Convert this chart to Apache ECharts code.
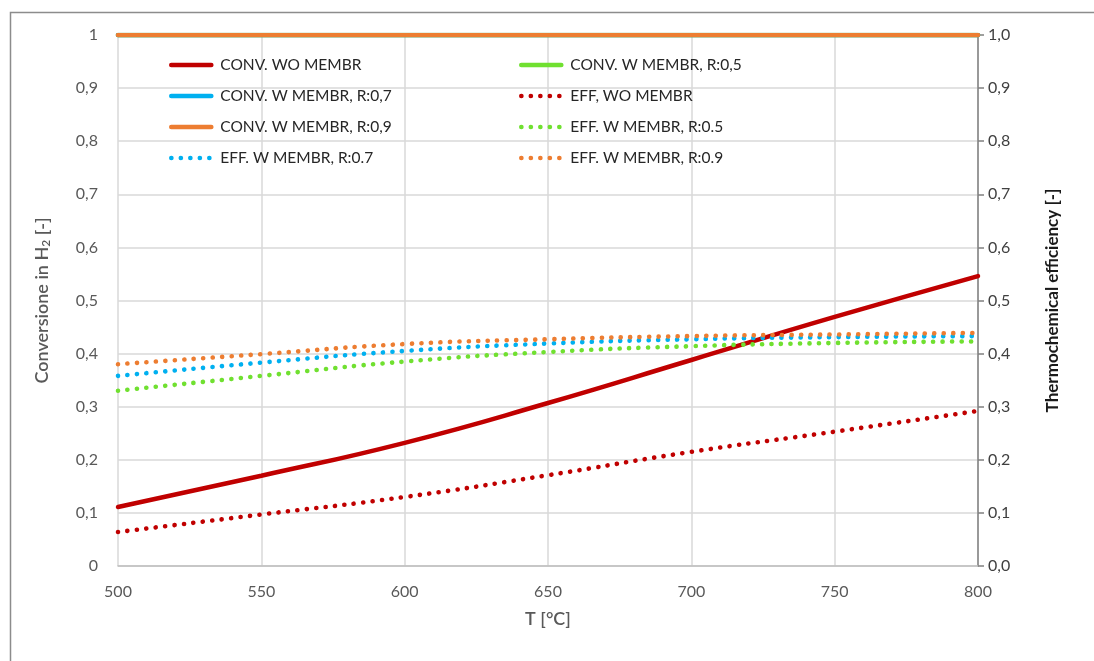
<!DOCTYPE html>
<html>
<head>
<meta charset="utf-8">
<script src="https://cdn.jsdelivr.net/npm/echarts@6/dist/echarts.min.js"></script>
<style>
  html, body { margin: 0; padding: 0; background: #fff; }
  #chart { width: 1094px; height: 661px; }
</style>
</head>
<body>
<div id="chart"></div>
<script>
// Temperature samples [°C]
const temps = [500, 550, 600, 650, 700, 750, 800];

// H2 conversion without membrane
const convWo = [0.111, 0.170, 0.232, 0.307, 0.388, 0.469, 0.546];
// H2 conversion with membrane (complete at every temperature)
const convR05 = [1, 1, 1, 1, 1, 1, 1];
const convR07 = [1, 1, 1, 1, 1, 1, 1];
const convR09 = [1, 1, 1, 1, 1, 1, 1];

// Thermochemical efficiency
const effWo = [0.064, 0.097, 0.130, 0.171, 0.215, 0.253, 0.292];
const effR05 = [0.330, 0.358, 0.385, 0.403, 0.414, 0.420, 0.423];
const effR07 = [0.358, 0.383, 0.405, 0.419, 0.427, 0.431, 0.433];
const effR09 = [0.380, 0.399, 0.418, 0.427, 0.433, 0.436, 0.439];

const leftLegend = ['CONV. WO MEMBR', 'CONV. W MEMBR, R:0,7', 'CONV. W MEMBR, R:0,9', 'EFF. W MEMBR, R:0.7'];
const rightLegend = ['CONV. W MEMBR, R:0,5', 'EFF, WO MEMBR', 'EFF. W MEMBR, R:0.5', 'EFF. W MEMBR, R:0.9'];

const RED = '#c00000', GREEN = '#70e030', BLUE = '#00b0f0', ORANGE = '#ed7d31';
const FONT = 'Lato, "Open Sans", sans-serif';

const pairs = ys => temps.map((t, i) => [t, ys[i]]);

function solid(name, ys, color, axis) {
  return {
    name, type: 'line', yAxisIndex: axis, data: pairs(ys), smooth: true,
    showSymbol: false, symbol: 'none',
    lineStyle: { color, width: 4.5, cap: 'round' }, itemStyle: { color }
  };
}
function dotted(name, ys, color, axis) {
  return {
    name, type: 'line', yAxisIndex: axis, data: pairs(ys), smooth: true,
    showSymbol: false, symbol: 'none',
    lineStyle: { color, width: 4.6, type: [0.1, 9.4], cap: 'round' }, itemStyle: { color }
  };
}

function legendColumn(left, names) {
  return {
    orient: 'vertical', left, top: 52, data: names,
    itemWidth: 40, itemHeight: 10, itemGap: 15,
    itemStyle: { opacity: 0 },
    lineStyle: { width: 4.6, cap: 'round' },
    textStyle: { fontFamily: FONT, fontSize: 15.5, color: '#262626', padding: [0, 0, 0, 4] },
    selectedMode: false
  };
}

const chart = echarts.init(document.getElementById('chart'));
chart.setOption({
  backgroundColor: '#fff',
  animation: false,
  graphic: [{
    type: 'rect', left: 8, top: 10, shape: { width: 1200, height: 800 },
    style: { fill: 'none', stroke: '#8c8c8c', lineWidth: 1.5 }, silent: true, z: -1
  }],
  grid: { left: 118, right: 116, top: 35, bottom: 95 },
  legend: [legendColumn(164, leftLegend), legendColumn(514, rightLegend)],
  xAxis: {
    type: 'value', min: 500, max: 800, interval: 50,
    name: 'T [°C]', nameLocation: 'middle', nameGap: 44,
    nameTextStyle: { fontFamily: FONT, fontSize: 18, fontWeight: 600, color: '#595959' },
    axisLine: { show: true, lineStyle: { color: '#bfbfbf', width: 1.5 } },
    axisTick: { show: false },
    axisLabel: { fontFamily: FONT, fontSize: 16, color: '#595959', margin: 18 },
    splitLine: { show: true, lineStyle: { color: '#d9d9d9', width: 1.5 } }
  },
  yAxis: [{
    type: 'value', min: 0, max: 1, interval: 0.1, position: 'left',
    name: 'Conversione in H{sub|2} [-]', nameLocation: 'middle', nameGap: 66, nameRotate: 90,
    nameTextStyle: {
      fontFamily: FONT, fontSize: 18, fontWeight: 600, color: '#595959',
      rich: { sub: { fontFamily: FONT, fontSize: 12, fontWeight: 600, color: '#595959', verticalAlign: 'bottom', padding: [8, 0, 0, 0] } }
    },
    axisLine: { show: false }, axisTick: { show: false },
    axisLabel: { fontFamily: FONT, fontSize: 16, color: '#595959', margin: 20,
      formatter: v => (Math.round(v * 10) / 10).toString().replace('.', ',') },
    splitLine: { show: true, lineStyle: { color: '#d9d9d9', width: 1.5 } }
  }, {
    type: 'value', min: 0, max: 1, interval: 0.1, position: 'right',
    name: 'Thermochemical efficiency [-]', nameLocation: 'middle', nameGap: 66, nameRotate: 90,
    nameTextStyle: { fontFamily: FONT, fontSize: 17, fontWeight: 700, color: '#1a1a1a' },
    axisLine: { show: true, lineStyle: { color: '#808080', width: 1.5 } },
    axisTick: { show: true, inside: false, length: 6, lineStyle: { color: '#808080', width: 1.5 } },
    axisLabel: { fontFamily: FONT, fontSize: 16, color: '#404040', margin: 10,
      formatter: v => v.toFixed(1).replace('.', ',') },
    splitLine: { show: false }
  }],
  series: [
    solid('CONV. WO MEMBR', convWo, RED, 0),
    solid('CONV. W MEMBR, R:0,5', convR05, GREEN, 0),
    solid('CONV. W MEMBR, R:0,7', convR07, BLUE, 0),
    dotted('EFF, WO MEMBR', effWo, RED, 1),
    solid('CONV. W MEMBR, R:0,9', convR09, ORANGE, 0),
    dotted('EFF. W MEMBR, R:0.5', effR05, GREEN, 1),
    dotted('EFF. W MEMBR, R:0.7', effR07, BLUE, 1),
    dotted('EFF. W MEMBR, R:0.9', effR09, ORANGE, 1)
  ]
});
</script>
</body>
</html>
